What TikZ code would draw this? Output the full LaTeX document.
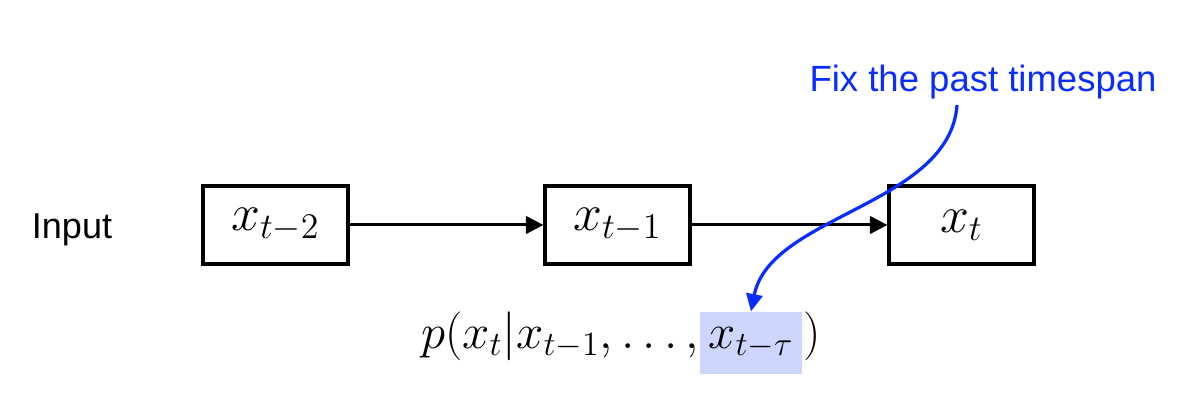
\documentclass[tikz,border=0pt]{standalone}
\usepackage{graphicx}
\usepackage{fontspec}
\setmainfont{Liberation Sans}
\usetikzlibrary{arrows.meta}
\definecolor{annot}{RGB}{10,45,255}
\definecolor{hlfill}{RGB}{204,214,255}
\newcommand{\fmath}[1]{\scalebox{0.943}{$#1$}}
\tikzset{
  statebox/.style={draw, line width=1.3pt, minimum width=58pt, minimum height=31.2pt, inner sep=0pt, font=\fontsize{19.5}{22}\selectfont},
  flow/.style={line width=1.2pt, -{Triangle[length=7pt,width=7pt]}},
  note/.style={annot, line width=1.3pt, -{Triangle[length=7pt,width=6.5pt]}},
  formula/.style={inner sep=0pt, font=\fontsize{20.74}{24}\selectfont},
}
\begin{document}
\begin{tikzpicture}[x=0.4pt, y=-0.4pt]
\useasboundingbox (0,0) rectangle (1191,405);
\node[font=\fontsize{14.4}{17}\selectfont] (input) at (72,230) {Input};
\node[statebox] (a) at (275.5,225) {$x_{t-2}$};
\node[statebox] (b) at (617.5,225) {$x_{t-1}$};
\node[statebox] (c) at (961.5,225) {$x_t$};
\draw[flow] (a) -- (b);
\draw[flow] (b) -- (c);
\node[formula, fill=hlfill, minimum width=40.8pt, minimum height=24.8pt] (hl) at (751,343) {\fmath{x_{t-\tau}}};
\node[formula, anchor=base east] (lhs) at (hl.base west) {\fmath{p(x_t|x_{t-1},\ldots,}};
\node[formula, anchor=base west] (rhs) at (hl.base east) {\fmath{)}};
\node[annot, font=\fontsize{14.6}{17}\selectfont] (title) at (983,82) {Fix the past timespan};
\coordinate (start) at (957,105);
\draw[note] (start) .. controls (950,205) and (770,215) .. (hl.north);
\end{tikzpicture}
\end{document}
